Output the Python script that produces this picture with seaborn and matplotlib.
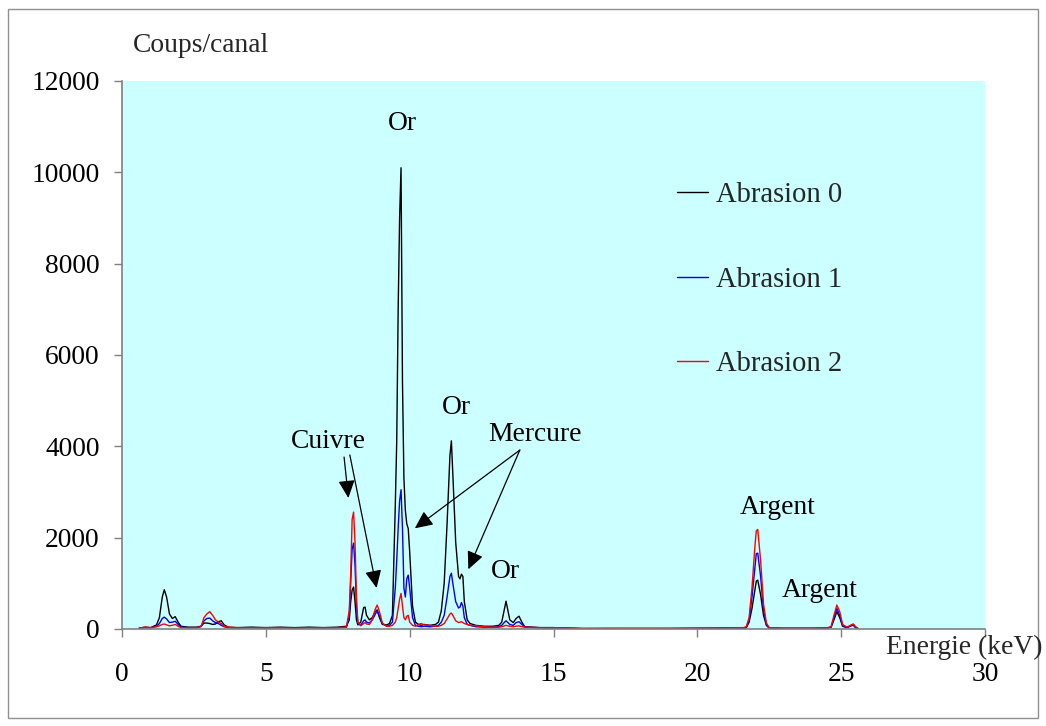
import matplotlib
matplotlib.use("Agg")
import matplotlib.pyplot as plt
import seaborn as sns
import pandas as pd
from matplotlib.patches import Rectangle

# ---------------- data ----------------
energie = [
    0.60, 0.80, 1.00, 1.20, 1.30, 1.40, 1.47, 1.55, 1.65, 1.75, 1.85, 1.95, 2.05,
    2.30, 2.60, 2.75, 2.85, 2.95, 3.05, 3.15, 3.25, 3.35, 3.45, 3.55, 3.70, 4.00,
    4.50, 5.00, 5.50, 6.00, 6.50, 7.00, 7.50, 7.80,
    7.90, 7.95, 8.00, 8.05, 8.10, 8.15, 8.20, 8.30, 8.40, 8.45, 8.50, 8.60,
    8.70, 8.80, 8.87, 8.95, 9.05, 9.20, 9.30,
    9.40, 9.50, 9.55, 9.60, 9.65, 9.70, 9.75, 9.80, 9.85, 9.90, 9.95, 10.00,
    10.10, 10.20, 10.30, 10.40, 10.50, 10.70, 10.90,
    11.00, 11.10, 11.20, 11.30, 11.40, 11.45, 11.50, 11.60, 11.70, 11.75,
    11.80, 11.85, 11.90, 12.00, 12.10, 12.30, 12.60, 12.90,
    13.10, 13.20, 13.30, 13.35, 13.40, 13.48, 13.60, 13.70, 13.80, 13.90, 14.00,
    14.50, 15.00, 15.50, 16.00, 17.00, 18.00, 19.00, 20.00, 21.00, 21.60,
    21.70, 21.80, 21.90, 22.00, 22.05, 22.10, 22.20, 22.30, 22.40, 22.50,
    23.00, 24.00, 24.50, 24.65, 24.75, 24.85, 24.95, 25.05, 25.20, 25.35,
    25.42, 25.50, 25.58,
]
abrasion_0 = [
    20, 40, 30, 90, 250, 700, 860, 700, 330, 230, 270, 150, 60,
    40, 40, 60, 130, 130, 120, 100, 110, 160, 180, 90, 40, 30,
    40, 30, 40, 30, 40, 30, 40, 60,
    200, 600, 850, 920, 600, 200, 90, 150, 470, 480, 300, 200,
    250, 380, 420, 250, 100, 90, 120,
    300, 2700, 4100, 7000, 9000, 10100, 5400, 3300, 2600, 2300, 2200, 1700,
    500, 150, 100, 80, 100, 80, 100,
    150, 400, 1000, 2300, 3800, 4120, 3400, 1900, 1150, 1100,
    1200, 1150, 600, 200, 120, 80, 60, 60,
    80, 150, 450, 610, 450, 200, 140, 230, 280, 150, 50,
    30, 30, 20, 10, 10, 10, 10, 15, 20, 20,
    30, 150, 450, 850, 1050, 1070, 750, 300, 80, 20,
    15, 15, 20, 40, 200, 380, 250, 60, 30, 80,
    100, 40, 10,
]
abrasion_1 = [
    15, 30, 25, 60, 120, 230, 260, 220, 140, 150, 170, 100, 40,
    30, 30, 60, 180, 230, 240, 180, 140, 120, 80, 50, 30, 20,
    30, 20, 30, 20, 30, 20, 30, 40,
    300, 1000, 1750, 1880, 1400, 500, 120, 80, 180, 200, 150, 130,
    200, 320, 400, 280, 120, 60, 80,
    150, 900, 1500, 2200, 2800, 3050, 2200, 900, 700, 1100, 1180, 900,
    250, 80, 60, 50, 60, 50, 60,
    80, 150, 300, 700, 1150, 1220, 1000, 600, 460, 480,
    580, 500, 250, 100, 80, 50, 40, 40,
    50, 80, 150, 180, 150, 100, 80, 140, 160, 100, 40,
    30, 20, 15, 10, 10, 10, 10, 10, 15, 15,
    30, 200, 700, 1350, 1650, 1660, 1150, 420, 100, 20,
    10, 10, 15, 40, 250, 450, 300, 70, 30, 70,
    80, 30, 10,
]
abrasion_2 = [
    20, 40, 30, 50, 70, 100, 110, 90, 70, 80, 100, 60, 30,
    30, 30, 50, 250, 330, 380, 300, 200, 150, 120, 60, 40, 30,
    30, 30, 30, 20, 30, 30, 30, 40,
    400, 1200, 2400, 2560, 1900, 700, 150, 70, 120, 140, 110, 100,
    200, 430, 525, 380, 130, 60, 60,
    80, 150, 250, 450, 650, 780, 500, 250, 200, 280, 300, 150,
    80, 60, 100, 120, 90, 80, 60,
    60, 80, 120, 220, 330, 350, 300, 180, 140, 150,
    160, 140, 120, 100, 80, 70, 50, 40,
    40, 50, 70, 80, 70, 60, 50, 60, 70, 50, 40,
    30, 30, 20, 10, 15, 15, 15, 20, 25, 30,
    50, 250, 900, 1800, 2150, 2180, 1500, 550, 130, 30,
    20, 20, 25, 50, 300, 525, 380, 100, 40, 90,
    110, 50, 20,
]
series_names = ["Abrasion 0", "Abrasion 1", "Abrasion 2"]
series_colors = ["#000000", "#0000FF", "#FF0000"]
x_ticks = [0, 5, 10, 15, 20, 25, 30]
y_ticks = [0, 2000, 4000, 6000, 8000, 10000, 12000]

# peak labels: text, (energy, counts) of the text centre
label_texts = ["Or", "Or", "Or", "Cuivre", "Mercure", "Argent", "Argent"]
label_pos = [(9.73, 11060), (11.64, 4840), (13.31, 1250), (7.16, 4100),
             (14.36, 4270), (22.80, 2650), (24.26, 840)]
# arrows: start (energy, counts) -> tip (energy, counts)
arrow_start = [(7.72, 3766), (7.92, 3810), (13.83, 3919), (13.83, 3919)]
arrow_tip = [(7.87, 2868), (8.85, 898), (10.18, 2205), (12.04, 1307)]

# ---------------- style ----------------
sns.set_theme(style="ticks")
plt.rcParams["font.family"] = ["Liberation Serif", "DejaVu Serif"]
FS = 19.8

series = [abrasion_0, abrasion_1, abrasion_2]
frames = []
for name, vals in zip(series_names, series):
    frames.append(pd.DataFrame({"Energie": energie, "Coups": vals, "Serie": name}))
df = pd.concat(frames, ignore_index=True)

W, H = 1046, 726
fig = plt.figure(figsize=(W / 100, H / 100), dpi=100)
fig.patch.set_facecolor("white")
ax = fig.add_axes([122 / W, 1 - 629 / H, (985 - 122) / W, (629 - 81) / H])
ax.set_facecolor("#CCFFFF")

sns.lineplot(data=df, x="Energie", y="Coups", hue="Serie", hue_order=series_names,
             palette=dict(zip(series_names, series_colors)), estimator=None,
             sort=False, linewidth=1.0, ax=ax)

ax.set_xlim(0, 30)
ax.set_ylim(0, 12000)
ax.set_xticks(x_ticks)
ax.set_yticks(y_ticks)
ax.set_xticklabels([str(v) for v in x_ticks])
ax.set_yticklabels([str(v) for v in y_ticks])
ax.set_xlabel("")
ax.set_ylabel("")
for side in ["top", "right"]:
    ax.spines[side].set_visible(False)
for side in ["left", "bottom"]:
    ax.spines[side].set_color("#808080")
    ax.spines[side].set_linewidth(1.2)
ax.tick_params(axis="both", direction="out", length=6, width=1.0, color="#808080",
               labelsize=FS, labelcolor="black")
ax.tick_params(axis="y", pad=10)
ax.tick_params(axis="x", pad=18)

# legend
leg = ax.get_legend()
handles = leg.legend_handles
labels = [t.get_text() for t in leg.get_texts()]
leg.remove()
ax.legend(handles, labels, loc="upper left",
          bbox_to_anchor=((677 - 122) / (985 - 122), 1 - (182 - 81) / (629 - 81)),
          frameon=False, fontsize=20.6, labelspacing=2.05, handlelength=1.08,
          handletextpad=0.3, borderaxespad=0, borderpad=0)
for h in ax.get_legend().legend_handles:
    h.set_linewidth(1.0)

# peak labels
for txt, (xx, yy) in zip(label_texts, label_pos):
    ax.text(xx, yy, txt, ha="center", va="center", fontsize=FS, color="black")
for (x0, y0), (x1, y1) in zip(arrow_start, arrow_tip):
    ax.annotate("", xy=(x1, y1), xytext=(x0, y0),
                arrowprops=dict(arrowstyle="-|>,head_length=0.6,head_width=0.28",
                                mutation_scale=18, color="black", lw=0.9,
                                shrinkA=0, shrinkB=0))

# axis titles
fig.text(133 / W, 1 - 45 / H, "Coups/canal", ha="left", va="center", fontsize=FS)
fig.text(1043 / W, 1 - 647 / H, "Energie (keV)", ha="right", va="center", fontsize=FS)

# outer frame
fig.add_artist(Rectangle((8 / W, 1 - 718 / H), (1038 - 8) / W, (718 - 9) / H,
                         transform=fig.transFigure, fill=False,
                         edgecolor="#909090", linewidth=1.0))

fig.savefig("out.png", dpi=100, facecolor="white")
